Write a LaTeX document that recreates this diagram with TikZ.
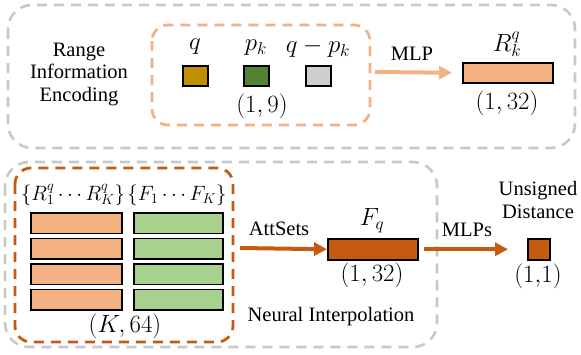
\documentclass[tikz,border=0pt]{standalone}
\usepackage{fontspec}
\setmainfont{Liberation Serif}
\usetikzlibrary{arrows.meta}
\definecolor{grayd}{HTML}{C8C8C8}
\definecolor{lorange}{HTML}{F4B183}
\definecolor{dorange}{HTML}{C55A11}
\definecolor{qcol}{HTML}{BF9000}
\definecolor{pcol}{HTML}{548235}
\definecolor{gcol}{HTML}{CFCFCF}
\definecolor{lgreen}{HTML}{A9D18E}
\tikzset{
  graybox/.style={draw=grayd, line width=2.6pt, dash pattern=on 10pt off 7pt, rounded corners=24pt},
  obox/.style={line width=2.8pt, dash pattern=on 10pt off 7pt, rounded corners=16pt},
  cell/.style={draw=black, line width=1.5pt, inner sep=0pt, anchor=north west},
  lbl/.style={font=\fontsize{20.5}{24}\selectfont, inner sep=0pt},
  mlbl/.style={font=\fontsize{23}{26}\selectfont, inner sep=0pt},
  slbl/.style={font=\fontsize{20.5}{24}\selectfont, inner sep=0pt},
  arr/.style={line width=4pt, -{Triangle[width=13pt,length=13pt]}},
}
\begin{document}
\begin{tikzpicture}[x=1pt,y=-1pt]
\useasboundingbox (0,0) rectangle (581,354);
% top region
\draw[graybox] (8,5) rectangle (575,148);
\draw[obox, draw=lorange] (152,25) rectangle (370,125);
\node[lbl, align=center] (rie) at (79,74) {Range\\[-1.5pt]Information\\[-1.5pt]Encoding};
\node[cell, fill=qcol, minimum width=25pt, minimum height=20pt] (sq) at (182,65) {};
\node[cell, fill=pcol, minimum width=25pt, minimum height=20pt] (sp) at (243,65) {};
\node[cell, fill=gcol, minimum width=25pt, minimum height=20pt] (sd) at (305,65) {};
\node[mlbl] (lq) at (195,47) {$q$};
\node[mlbl] (lp) at (256,48) {$p_k$};
\node[mlbl] (ld) at (318,48) {$q-p_k$};
\node[mlbl] (l19) at (262,106) {$(1,9)$};
\node[cell, fill=lorange, minimum width=90pt, minimum height=20pt] (rk) at (462,62) {};
\node[mlbl] (lrk) at (507,44) {$R_k^q$};
\node[mlbl] (l132a) at (507,103) {$(1,32)$};
\coordinate (mlps) at (375,72);
\draw[arr, draw=lorange, fill=lorange] (mlps) -- (rk.west -| 452,0);
\node[lbl] (lmlp) at (412,54) {MLP};
% bottom region
\draw[graybox] (5,162) -- (5,347) -- (437,347) -- (437,162) -- cycle;
\draw[obox, draw=dorange] (15,168) rectangle (233,342);
\foreach \i/\y in {1/212,2/237.5,3/263,4/288.5}{
  \node[cell, fill=lorange, minimum width=91pt, minimum height=20.5pt] (r\i) at (30,\y) {};
  \node[cell, fill=lgreen, minimum width=89pt, minimum height=20.5pt] (f\i) at (133,\y) {};
}
\node[slbl] (lrset) at (73,195) {$\{R_1^q\cdots R_K^q\}$};
\node[slbl] (lfset) at (177,195) {$\{F_1\cdots F_K\}$};
\node[mlbl] (lk64) at (125,326) {$(K,64)$};
\node[cell, fill=dorange, minimum width=90pt, minimum height=21pt] (fq) at (327,238) {};
\node[mlbl] (lfq) at (372,221) {$F_q$};
\node[mlbl] (l132b) at (372,275) {$(1,32)$};
\node[lbl] (lni) at (331,317) {Neural Interpolation};
\coordinate (atts) at (240,248);
\draw[arr, draw=dorange] (atts) -- (fq.west);
\node[lbl] (latt) at (279,229) {AttSets};
\node[cell, fill=dorange, minimum width=22pt, minimum height=21pt] (out) at (527,238) {};
\node[mlbl] (l11) at (538,276) {$(1,\!1)$};
\node[lbl, align=center] (lud) at (538,200) {Unsigned\\[-1.5pt]Distance};
\draw[arr, draw=dorange] (fq.east) ++(5,0) coordinate (fqe) -- (out.west -| 508,0);
\node[lbl] (lmlps) at (467,230) {MLPs};
\end{tikzpicture}
\end{document}
